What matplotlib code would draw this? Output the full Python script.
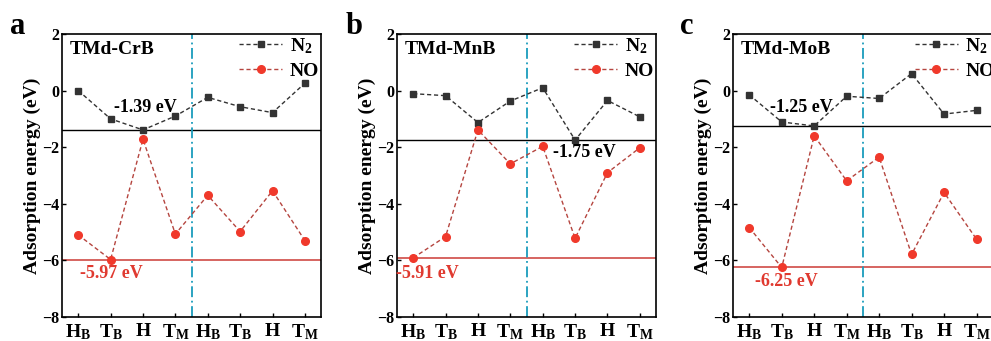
import matplotlib
matplotlib.use("Agg")
import matplotlib.pyplot as plt

plt.rcParams['font.family'] = ['Liberation Serif', 'DejaVu Serif']
plt.rcParams['font.weight'] = 'bold'
plt.rcParams['mathtext.fontset'] = 'custom'
plt.rcParams['mathtext.rm'] = 'Liberation Serif:bold'
plt.rcParams['mathtext.bf'] = 'Liberation Serif:bold'
plt.rcParams['mathtext.it'] = 'Liberation Serif:bold'

sites = [r"H$_\mathrm{B}$", r"T$_\mathrm{B}$", "H", r"T$_\mathrm{M}$",
         r"H$_\mathrm{B}$", r"T$_\mathrm{B}$", "H", r"T$_\mathrm{M}$"]
panel_letters = ["a", "b", "c"]
panel_names = ["TMd-CrB", "TMd-MnB", "TMd-MoB"]

n2_crb = [0.0, -1.0, -1.39, -0.90, -0.24, -0.57, -0.78, 0.26]
no_crb = [-5.10, -5.97, -1.72, -5.07, -3.70, -4.98, -3.54, -5.30]
n2_mnb = [-0.11, -0.18, -1.13, -0.37, 0.10, -1.75, -0.35, -0.93]
no_mnb = [-5.91, -5.16, -1.39, -2.59, -1.97, -5.22, -2.90, -2.02]
n2_mob = [-0.15, -1.11, -1.25, -0.20, -0.28, 0.60, -0.83, -0.70]
no_mob = [-4.84, -6.25, -1.60, -3.19, -2.35, -5.79, -3.60, -5.25]

n2_all = [n2_crb, n2_mnb, n2_mob]
no_all = [no_crb, no_mnb, no_mob]
n2_min_labels = ["-1.39 eV", "-1.75 eV", "-1.25 eV"]
no_min_labels = ["-5.97 eV", "-5.91 eV", "-6.25 eV"]
# annotation positions (data coords)
n2_lab_pos = [(2.06, -0.61), (5.3, -2.2), (1.59, -0.6)]
no_lab_pos = [(1.03, -6.48), (0.45, -6.45), (1.15, -6.74)]

fig = plt.figure(figsize=(9.91, 3.41), dpi=100)
lefts = [0.0626, 0.4006, 0.7397]
widths = [0.2614, 0.2614, 0.2660]
B, H = 0.0704, 0.8300

n2_color = '#333333'
no_color = '#f0392b'
no_line = '#b5453f'
cyan = '#1a9cbc'

for i in range(3):
    ax = fig.add_axes([lefts[i], B, widths[i], H])
    x = list(range(len(sites)))
    n2 = n2_all[i]
    no = no_all[i]
    ax.plot(x, n2, linestyle=(0, (3, 2)), color=n2_color, lw=1.0,
            marker='s', ms=4.5, mfc=n2_color, mec=n2_color, label=r"N$_2$")
    ax.plot(x, no, linestyle=(0, (3, 2)), color=no_line, lw=1.0,
            marker='o', ms=5.5, mfc=no_color, mec=no_color, label="NO")
    ax.axhline(min(n2), color='black', lw=1.0, zorder=0)
    ax.axhline(min(no), color='#d04a45', lw=1.2, zorder=0)
    ax.axvline(3.5, color=cyan, lw=1.3, linestyle=(0, (6, 2, 1, 2)), zorder=0)
    ax.set_xlim(-0.5, 7.5 if i < 2 else 7.62)
    ax.set_ylim(-8, 2)
    ax.set_yticks([2, 0, -2, -4, -6, -8])
    ax.set_xticks(x)
    ax.set_xticklabels(sites, fontsize=14, fontweight='bold')
    ax.tick_params(axis='both', direction='in', length=3, width=1.0)
    ax.tick_params(axis='y', labelsize=11.5, pad=2)
    ax.tick_params(axis='x', pad=4)
    for lab in ax.get_yticklabels():
        lab.set_fontweight('bold')
    for sp in ax.spines.values():
        sp.set_linewidth(1.2)
    ax.set_ylabel("Adsorption energy (eV)", fontsize=14, fontweight='bold', labelpad=1)
    ax.text(0.03, 0.975, panel_names[i], transform=ax.transAxes, fontsize=14,
            fontweight='bold', va='top', ha='left')
    ax.text(-0.2, 1.0, panel_letters[i], transform=ax.transAxes, fontsize=22,
            fontweight='bold', va='baseline', ha='left')
    ax.text(*n2_lab_pos[i], n2_min_labels[i], fontsize=13, fontweight='bold',
            color='black', ha='center', va='center')
    ax.text(*no_lab_pos[i], no_min_labels[i], fontsize=13, fontweight='bold',
            color='#e03a30', ha='center', va='center')
    ax.legend(loc='upper right', frameon=False, fontsize=14,
              handlelength=2.2, handletextpad=0.4, borderaxespad=0.0,
              borderpad=0.1, labelspacing=0.35)

fig.savefig("out.png", dpi=100)
